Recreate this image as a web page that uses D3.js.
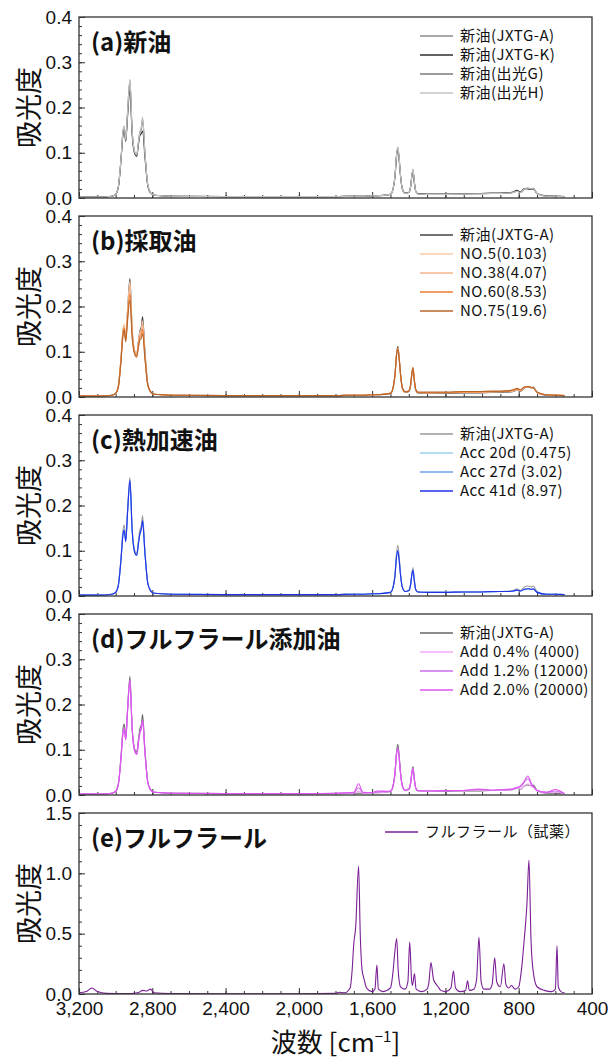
<!DOCTYPE html>
<html>
<head>
<meta charset="utf-8">
<script src="https://cdnjs.cloudflare.com/ajax/libs/d3/7.8.5/d3.min.js"></script>
<style>
  body { margin: 0; background: #fff; }
  svg text { font-family: "Liberation Sans", "Noto Sans CJK JP", sans-serif; fill: #111; }
  svg .jp { font-family: "Noto Sans CJK JP", sans-serif; }
</style>
</head>
<body>
<div id="chart"></div>
<script>
"use strict";

// wavenumber grid shared by the oil spectra (cm-1)
var oilWn = [3200, 3100, 3020, 3000, 2985, 2970, 2960, 2953, 2945, 2935,
  2922, 2910, 2895, 2885, 2875, 2868, 2860, 2853, 2840, 2825,
  2810, 2790, 2700, 2400, 2000, 1800, 1700, 1674, 1650, 1600,
  1574, 1500, 1485, 1475, 1468, 1460, 1452, 1445, 1435, 1420,
  1400, 1390, 1383, 1377, 1371, 1362, 1350, 1300, 1200, 1100,
  1020, 950, 900, 850, 830, 810, 790, 770, 750, 730,
  720, 700, 650, 600, 550];

// (a) new oils
var newA = [0.002,0.002,0.004,0.008,0.025,0.09,0.145,0.157,0.128,0.19, 0.262,0.15,0.1,0.095,0.125,0.145,0.155,0.178,0.1,0.03,
  0.012,0.006,0.004,0.003,0.003,0.003,0.004,0.004,0.004,0.005, 0.005,0.008,0.022,0.05,0.09,0.112,0.085,0.05,0.02,0.01,
  0.012,0.025,0.05,0.063,0.04,0.015,0.009,0.008,0.008,0.009, 0.009,0.01,0.01,0.011,0.012,0.016,0.012,0.02,0.022,0.02,
  0.022,0.01,0.004,0.004,0.003];
var newK = [0.002,0.002,0.004,0.008,0.024,0.088,0.14,0.15,0.125,0.18, 0.238,0.14,0.097,0.092,0.12,0.138,0.142,0.148,0.09,0.028,
  0.011,0.006,0.004,0.003,0.003,0.003,0.004,0.004,0.004,0.005, 0.005,0.008,0.021,0.048,0.086,0.107,0.082,0.048,0.02,0.011,
  0.012,0.025,0.049,0.06,0.038,0.015,0.01,0.009,0.009,0.01, 0.01,0.011,0.011,0.012,0.013,0.017,0.013,0.021,0.02,0.019,
  0.02,0.01,0.005,0.004,0.003];
var newG = [0.002,0.002,0.004,0.008,0.025,0.09,0.146,0.158,0.127,0.188, 0.255,0.148,0.1,0.094,0.124,0.144,0.152,0.172,0.098,0.03,
  0.012,0.006,0.004,0.003,0.003,0.003,0.004,0.004,0.004,0.005, 0.005,0.008,0.022,0.05,0.09,0.11,0.084,0.05,0.02,0.01,
  0.012,0.025,0.05,0.062,0.04,0.015,0.009,0.008,0.009,0.009, 0.01,0.01,0.01,0.011,0.012,0.015,0.012,0.019,0.021,0.02,
  0.021,0.01,0.004,0.004,0.003];
var newH = [0.002,0.002,0.004,0.008,0.026,0.092,0.148,0.159,0.13,0.19, 0.26,0.15,0.101,0.096,0.126,0.146,0.156,0.176,0.1,0.03,
  0.012,0.006,0.004,0.003,0.003,0.003,0.004,0.004,0.004,0.005, 0.005,0.008,0.022,0.05,0.09,0.113,0.086,0.05,0.02,0.01,
  0.012,0.026,0.051,0.064,0.041,0.015,0.009,0.008,0.008,0.009, 0.009,0.01,0.01,0.011,0.012,0.015,0.012,0.02,0.022,0.02,
  0.021,0.01,0.004,0.004,0.003];

// (b) sampled oils
var no5 = [0.002,0.002,0.004,0.008,0.025,0.092,0.15,0.162,0.13,0.19, 0.255,0.148,0.1,0.094,0.124,0.142,0.15,0.168,0.095,0.03,
  0.012,0.006,0.004,0.003,0.003,0.003,0.004,0.004,0.004,0.005, 0.005,0.008,0.022,0.05,0.088,0.108,0.083,0.05,0.02,0.011,
  0.013,0.027,0.053,0.065,0.042,0.016,0.01,0.009,0.009,0.01, 0.01,0.011,0.011,0.012,0.013,0.016,0.013,0.021,0.022,0.02,
  0.021,0.01,0.005,0.004,0.003];
var no38 = [0.002,0.002,0.004,0.008,0.024,0.088,0.145,0.158,0.128,0.185, 0.245,0.145,0.098,0.092,0.12,0.138,0.146,0.16,0.092,0.029,
  0.012,0.006,0.004,0.003,0.003,0.003,0.004,0.004,0.004,0.005, 0.005,0.008,0.022,0.05,0.088,0.108,0.083,0.05,0.02,0.011,
  0.013,0.027,0.053,0.065,0.042,0.016,0.01,0.009,0.01,0.01, 0.011,0.011,0.012,0.013,0.014,0.017,0.014,0.021,0.022,0.021,
  0.021,0.01,0.005,0.004,0.003];
var no60 = [0.002,0.002,0.004,0.008,0.023,0.085,0.14,0.152,0.124,0.175, 0.228,0.138,0.095,0.09,0.116,0.132,0.138,0.15,0.088,0.028,
  0.012,0.006,0.004,0.003,0.003,0.003,0.004,0.004,0.004,0.005, 0.005,0.008,0.022,0.05,0.088,0.107,0.083,0.05,0.02,0.011,
  0.013,0.027,0.053,0.065,0.042,0.016,0.01,0.01,0.01,0.011, 0.011,0.012,0.012,0.013,0.015,0.018,0.015,0.022,0.023,0.021,
  0.021,0.01,0.005,0.004,0.003];
var no75 = [0.002,0.002,0.004,0.008,0.022,0.082,0.135,0.148,0.122,0.168, 0.215,0.132,0.093,0.088,0.112,0.126,0.13,0.14,0.084,0.027,
  0.012,0.006,0.004,0.003,0.003,0.003,0.004,0.004,0.004,0.005, 0.005,0.008,0.022,0.05,0.087,0.106,0.082,0.05,0.02,0.012,
  0.014,0.028,0.053,0.064,0.042,0.017,0.011,0.011,0.011,0.012, 0.012,0.013,0.013,0.014,0.016,0.019,0.016,0.022,0.023,0.021,
  0.02,0.011,0.005,0.004,0.003];

// (c) heat-accelerated oils
var acc20 = [0.002,0.002,0.004,0.008,0.024,0.085,0.138,0.148,0.122,0.185, 0.25,0.145,0.096,0.09,0.118,0.136,0.146,0.165,0.094,0.029,
  0.012,0.006,0.004,0.003,0.003,0.003,0.004,0.004,0.004,0.005, 0.005,0.008,0.02,0.047,0.083,0.102,0.078,0.046,0.019,0.01,
  0.012,0.025,0.048,0.058,0.037,0.014,0.009,0.008,0.008,0.009, 0.009,0.009,0.01,0.01,0.011,0.013,0.011,0.014,0.016,0.015,
  0.015,0.008,0.004,0.004,0.003];
var acc27 = [0.002,0.002,0.004,0.008,0.024,0.084,0.137,0.146,0.121,0.184, 0.252,0.146,0.095,0.09,0.118,0.136,0.147,0.166,0.094,0.029,
  0.012,0.006,0.004,0.003,0.003,0.003,0.004,0.004,0.004,0.005, 0.005,0.008,0.02,0.046,0.082,0.1,0.077,0.046,0.019,0.01,
  0.012,0.025,0.048,0.057,0.037,0.014,0.009,0.008,0.008,0.009, 0.009,0.009,0.01,0.01,0.011,0.013,0.011,0.015,0.016,0.015,
  0.015,0.008,0.004,0.004,0.003];
var acc41 = [0.002,0.002,0.004,0.008,0.024,0.084,0.136,0.145,0.12,0.185, 0.256,0.147,0.095,0.09,0.118,0.137,0.148,0.166,0.094,0.029,
  0.012,0.006,0.004,0.003,0.003,0.003,0.004,0.004,0.004,0.005, 0.005,0.008,0.02,0.046,0.082,0.1,0.077,0.046,0.019,0.01,
  0.012,0.025,0.048,0.057,0.037,0.014,0.009,0.008,0.008,0.009, 0.009,0.01,0.01,0.01,0.011,0.013,0.011,0.015,0.016,0.015,
  0.016,0.008,0.004,0.004,0.003];

// (d) furfural-added oils
var add04 = [0.002,0.002,0.004,0.008,0.024,0.085,0.138,0.148,0.122,0.186, 0.252,0.146,0.096,0.09,0.118,0.137,0.147,0.165,0.094,0.029,
  0.012,0.006,0.004,0.003,0.003,0.003,0.004,0.008,0.004,0.005, 0.005,0.008,0.021,0.048,0.085,0.102,0.079,0.047,0.019,0.01,
  0.012,0.026,0.049,0.058,0.038,0.015,0.009,0.008,0.009,0.009, 0.011,0.01,0.01,0.011,0.012,0.015,0.013,0.02,0.025,0.018,
  0.017,0.009,0.005,0.006,0.003];
var add12 = [0.002,0.002,0.004,0.008,0.024,0.085,0.138,0.148,0.122,0.186, 0.253,0.146,0.096,0.09,0.118,0.137,0.147,0.165,0.094,0.029,
  0.012,0.006,0.004,0.003,0.003,0.004,0.005,0.016,0.005,0.005, 0.007,0.008,0.021,0.049,0.086,0.102,0.079,0.047,0.02,0.01,
  0.013,0.027,0.05,0.058,0.038,0.015,0.01,0.009,0.009,0.01, 0.012,0.01,0.011,0.012,0.013,0.016,0.018,0.028,0.036,0.022,
  0.018,0.01,0.006,0.009,0.003];
var add20 = [0.002,0.002,0.004,0.008,0.024,0.085,0.138,0.148,0.122,0.186, 0.254,0.146,0.096,0.09,0.118,0.137,0.147,0.165,0.094,0.029,
  0.012,0.006,0.004,0.003,0.003,0.004,0.006,0.025,0.006,0.005, 0.009,0.008,0.022,0.05,0.087,0.103,0.08,0.048,0.02,0.011,
  0.014,0.028,0.05,0.059,0.039,0.016,0.01,0.009,0.01,0.01, 0.013,0.011,0.012,0.013,0.014,0.017,0.02,0.03,0.042,0.025,
  0.019,0.01,0.006,0.012,0.003];

// (e) furfural reagent
var furWn = [3200, 3160, 3130, 3100, 3050, 2950, 2880, 2850, 2830, 2810,
  2790, 2700, 2400, 2000, 1800, 1780, 1750, 1720, 1710, 1700,
  1690, 1674, 1665, 1655, 1645, 1630, 1600, 1585, 1574, 1566,
  1540, 1500, 1485, 1478, 1466, 1458, 1445, 1420, 1405, 1395,
  1385, 1380, 1369, 1360, 1330, 1300, 1290, 1279, 1265, 1250,
  1240, 1225, 1200, 1170, 1156, 1145, 1120, 1090, 1079, 1070,
  1045, 1030, 1017, 1005, 990, 960, 945, 931, 920, 900,
  881, 870, 855, 839, 820, 800, 785, 770, 755, 744,
  733, 722, 700, 660, 620, 600, 591, 584, 570, 550];
var furVal = [0.01, 0.02, 0.05, 0.02, 0.005, 0.003, 0.01, 0.03, 0.025, 0.04,
  0.01, 0.004, 0.002, 0.002, 0.005, 0.015, 0.01, 0.05, 0.18, 0.42,
  0.55, 1.06, 0.5, 0.2, 0.13, 0.05, 0.02, 0.04, 0.24, 0.04,
  0.02, 0.05, 0.2, 0.32, 0.46, 0.2, 0.06, 0.04, 0.1, 0.43,
  0.12, 0.07, 0.17, 0.04, 0.02, 0.04, 0.1, 0.26, 0.12, 0.08,
  0.06, 0.03, 0.02, 0.05, 0.19, 0.05, 0.02, 0.03, 0.11, 0.03,
  0.04, 0.12, 0.47, 0.1, 0.04, 0.04, 0.08, 0.3, 0.1, 0.06,
  0.25, 0.08, 0.05, 0.07, 0.04, 0.06, 0.2, 0.45, 0.75, 1.11,
  0.45, 0.2, 0.06, 0.03, 0.02, 0.04, 0.4, 0.06, 0.02, 0.01];

var xTickLabels = [3200, 2800, 2400, 2000, 1600, 1200, 800, 400];
var yTicksOil = [0, 0.1, 0.2, 0.3, 0.4];
var yTicksFur = [0, 0.5, 1.0, 1.5];

var panels = [
  { title: "(a)新油", yMax: 0.4, ticks: yTicksOil, minor: 0.02, legendX: 420, series: [
    { name: "新油(JXTG-A)", color: "#8c8c8c", wn: oilWn, v: newA },
    { name: "新油(JXTG-K)", color: "#2e2e2e", wn: oilWn, v: newK },
    { name: "新油(出光G)", color: "#7a7a7a", wn: oilWn, v: newG },
    { name: "新油(出光H)", color: "#c4c4c4", wn: oilWn, v: newH }] },
  { title: "(b)採取油", yMax: 0.4, ticks: yTicksOil, minor: 0.02, legendX: 420, series: [
    { name: "新油(JXTG-A)", color: "#444444", wn: oilWn, v: newA },
    { name: "NO.5(0.103)", color: "#fbcaa4", wn: oilWn, v: no5 },
    { name: "NO.38(4.07)", color: "#f5b48c", wn: oilWn, v: no38 },
    { name: "NO.60(8.53)", color: "#ec7a32", wn: oilWn, v: no60 },
    { name: "NO.75(19.6)", color: "#b8662c", wn: oilWn, v: no75 }] },
  { title: "(c)熱加速油", yMax: 0.4, ticks: yTicksOil, minor: 0.02, legendX: 420, series: [
    { name: "新油(JXTG-A)", color: "#9a9a9a", wn: oilWn, v: newA },
    { name: "Acc 20d (0.475)", color: "#9ccff2", wn: oilWn, v: acc20 },
    { name: "Acc 27d (3.02)", color: "#6c9ef0", wn: oilWn, v: acc27 },
    { name: "Acc 41d (8.97)", color: "#1f33e8", wn: oilWn, v: acc41 }] },
  { title: "(d)フルフラール添加油", yMax: 0.4, ticks: yTicksOil, minor: 0.02, legendX: 420, series: [
    { name: "新油(JXTG-A)", color: "#666666", wn: oilWn, v: newA },
    { name: "Add 0.4% (4000)", color: "#f5a8fb", wn: oilWn, v: add04 },
    { name: "Add 1.2% (12000)", color: "#cc6cee", wn: oilWn, v: add12 },
    { name: "Add 2.0% (20000)", color: "#df55f0", wn: oilWn, v: add20 }] },
  { title: "(e)フルフラール", yMax: 1.5, ticks: yTicksFur, minor: 0.1, legendX: 385, series: [
    { name: "フルフラール（試薬）", color: "#7b1f96", wn: furWn, v: furVal }] }
];

var W = 609, H = 1063,
    left = 79, right = 592, top0 = 17, ph = 181, step = 199;

var svg = d3.select("#chart").append("svg")
  .attr("width", W).attr("height", H);

var x = d3.scaleLinear().domain([3200, 400]).range([left, right]);

panels.forEach(function(p, i) {
  var top = top0 + i * step, bottom = top + ph;
  var y = d3.scaleLinear().domain([0, p.yMax]).range([bottom, top]);
  var g = svg.append("g");

  g.append("clipPath").attr("id", "clip" + i)
    .append("rect").attr("x", left).attr("y", top).attr("width", right - left).attr("height", ph);

  // minor ticks
  g.append("g").attr("transform", "translate(0," + bottom + ")")
    .call(d3.axisBottom(x).tickValues(d3.range(3200, 399, -100)).tickSize(-3).tickFormat(""))
    .call(function(a) { a.select(".domain").remove(); });
  g.append("g").attr("transform", "translate(" + left + ",0)")
    .call(d3.axisLeft(y).tickValues(d3.range(0, p.yMax + 1e-9, p.minor)).tickSize(-3).tickFormat(""))
    .call(function(a) { a.select(".domain").remove(); });

  // major ticks
  var xa = g.append("g").attr("class", "x axis").attr("transform", "translate(0," + bottom + ")")
    .call(d3.axisBottom(x).tickValues(xTickLabels).tickSize(-6).tickPadding(8)
      .tickFormat(i === panels.length - 1 ? d3.format(",") : ""));
  xa.select(".domain").remove();
  xa.selectAll("text").style("font-size", "19px");

  var ya = g.append("g").attr("class", "y axis").attr("transform", "translate(" + left + ",0)")
    .call(d3.axisLeft(y).tickValues(p.ticks).tickSize(-6).tickPadding(7).tickFormat(d3.format(".1f")));
  ya.select(".domain").remove();
  ya.selectAll("text").style("font-size", "19px");

  g.selectAll(".tick line").attr("stroke", "#333");

  // spectra
  var line = d3.line()
    .x(function(d) { return x(d[0]); })
    .y(function(d) { return y(d[1]); })
    .curve(d3.curveMonotoneX);

  g.append("g").attr("clip-path", "url(#clip" + i + ")")
    .selectAll("path").data(p.series).enter().append("path")
    .attr("fill", "none")
    .attr("stroke", function(s) { return s.color; })
    .attr("stroke-width", 1.1)
    .attr("d", function(s) { return line(s.wn.map(function(w, k) { return [w, s.v[k]]; })); });

  // frame
  g.append("rect").attr("x", left).attr("y", top).attr("width", right - left).attr("height", ph)
    .attr("fill", "none").attr("stroke", "#333").attr("stroke-width", 1.3);

  // title
  g.append("text").attr("class", "jp")
    .attr("x", 91).attr("y", top + 34)
    .style("font-size", "24px").style("font-weight", "bold")
    .text(p.title);

  // y label
  g.append("text").attr("class", "jp")
    .attr("transform", "translate(39," + (top + ph / 2) + ") rotate(-90)")
    .attr("text-anchor", "middle")
    .style("font-size", "27px")
    .text("吸光度");

  // legend
  var lg = g.selectAll(".leg").data(p.series).enter().append("g")
    .attr("transform", function(s, k) { return "translate(" + p.legendX + "," + (top + 19 + k * 19) + ")"; });
  lg.append("line").attr("x1", 0).attr("x2", 33)
    .attr("stroke", function(s) { return s.color; }).attr("stroke-width", 1.5);
  lg.append("text").attr("class", "jp")
    .attr("x", 40).attr("dy", "0.35em")
    .style("font-size", "15px").style("letter-spacing", "0.5px")
    .text(function(s) { return s.name; });
});

// x label
var xl = svg.append("text").attr("class", "jp")
  .attr("x", (left + right) / 2).attr("y", 1052)
  .attr("text-anchor", "middle")
  .style("font-size", "26px");
xl.append("tspan").text("波数 [cm");
xl.append("tspan").attr("dy", -10).style("font-size", "15px").text("−1");
xl.append("tspan").attr("dy", 10).text("]");
</script>
</body>
</html>
